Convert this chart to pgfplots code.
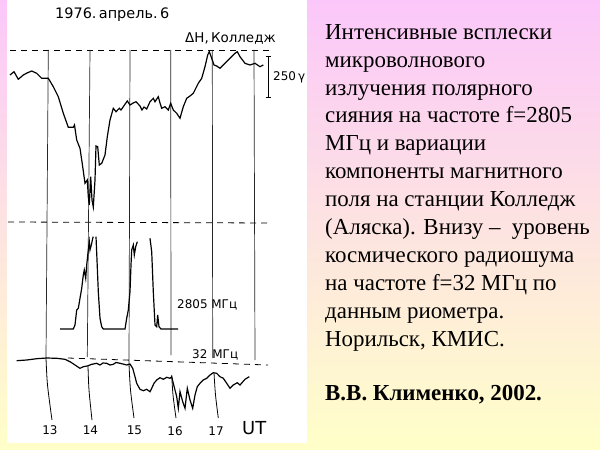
\documentclass[border=0pt]{standalone}
\usepackage{pgfplots}
\pgfplotsset{compat=1.18}
\usepackage{fontspec}
\setmainfont{Liberation Serif}
\newfontfamily\hand{DejaVu Sans}
\begin{document}
\begin{tikzpicture}[x=1bp,y=1bp]
\shade[top color={rgb,255:red,251;green,199;blue,250}, bottom color={rgb,255:red,255;green,255;blue,200}] (0,0) rectangle (600,450);
\fill[white] (7,7) rectangle (307,450);
\begin{axis}[at={(0,0)}, anchor=south west, width=600bp, height=450bp, scale only axis,
  xmin=0, xmax=600, ymin=0, ymax=450, y dir=reverse, axis lines=none, clip=false]
% dashed reference lines
\addplot[black, line width=0.8pt, dash pattern=on 6bp off 5bp] coordinates {(10,50) (270,50)};
\addplot[black, line width=0.8pt, dash pattern=on 6bp off 5bp] coordinates {(8,222) (270,223)};
\addplot[black, line width=0.8pt, dash pattern=on 6bp off 5bp] coordinates {(68,358) (268,365)};
% hour lines (upper parts)
\addplot[black!85, line width=0.7pt] coordinates {(48.3,50) (46,358)};
\addplot[black!85, line width=0.7pt] coordinates {(90,50) (87.3,357)};
\addplot[black!85, line width=0.7pt] coordinates {(130,50) (129,364)};
\addplot[black!85, line width=0.7pt] coordinates {(170.7,50) (171,355)};
\addplot[black!85, line width=0.7pt] coordinates {(212.3,50) (212.7,358)};
\addplot[black!85, line width=0.7pt] coordinates {(254,50) (255,360)};
% hour lines (lower parts, to labels)
\addplot[black, line width=0.8pt, smooth] coordinates {(46,358) (47.5,385) (52,420)};
\addplot[black, line width=0.8pt, smooth] coordinates {(88,366) (89,390) (92,420)};
\addplot[black, line width=0.8pt, smooth] coordinates {(129,364) (130.5,390) (134,418)};
\addplot[black, line width=0.8pt, smooth] coordinates {(171.7,375) (173,395) (176,418)};
\addplot[black, line width=0.8pt, smooth] coordinates {(214,373) (215.5,395) (218.3,418)};
% Delta H, College
\addplot[black, line width=1.2pt] coordinates {
(10,75) (14,71.7) (18.3,79.3) (23.3,75) (27,73) (31.7,71) (36.7,73.3) (41.7,78.3) (48.3,78.3)
(53.3,86.7) (58.3,96.7) (63.3,113.3) (68.3,127.3) (73.3,127.3) (74.5,125) (76.7,140) (80,148.3)
(82.7,166.7) (85,183.3) (87.3,180) (88.3,196.7) (89.3,205) (90.7,176.7) (92,200) (93.3,207)
(95,180) (96,146) (97.7,146.7) (99.3,165) (101.7,163.3) (105,155) (107.3,136.7) (110,120)
(113.3,108.3) (116,111.7) (119.3,108.3) (121,110) (123.3,106.7) (127.3,101) (130,105)
(132.7,103.3) (136,101.7) (140,106) (142,110) (144,107) (146.7,109) (150,101.7) (153.3,98.3)
(155,101.7) (158.3,96.7) (160,103) (161.7,108.3) (165,106.7) (168.3,110) (170.7,103.3)
(173.3,110) (176.7,113.3) (180,118.3) (183.3,106.7) (186.7,98.3) (190,96) (193.3,93.3)
(198.3,83.3) (201.7,78.3) (205,66.7) (207.7,55) (209.3,51.7) (211.7,58.3) (214,65) (216.7,66)
(220,68.3) (225,63.3) (230,58.3) (235,53.3) (237.3,51.7) (240,56.7) (245,63.3) (250,65)
(255,63.3) (260,66.7) (263.3,65)};
% 2805 MHz
\addplot[black, line width=1.2pt] coordinates {
(60,329) (73.3,329) (75,325) (76.7,310) (78.3,308.3) (81.7,288.3) (83.3,275) (84.3,270)
(85.7,278.3) (86.7,265) (88.3,250) (89.3,241.7) (90,250) (91.7,243.3) (92.7,238.3) (93.3,236.7)};
\addplot[black, line width=1.2pt] coordinates {
(96,236.7) (97,260) (98.3,291.7) (100,318.3) (101.7,326.7) (103.3,329) (125,329) (126.7,318.3)
(128.3,310) (130,291.7) (131,265) (131.7,250) (133.3,245) (134.3,255) (135.7,246.7) (137.3,241.7)};
\addplot[black, line width=1.2pt] coordinates {
(150,238.3) (151.7,251.7) (153.3,291.7) (155,325) (156.7,326.7) (157.7,315) (159,326.7)
(161,329) (178,329)};
% 32 MHz riometer
\addplot[black, line width=1.2pt] coordinates {
(16.7,360.7) (26.7,360) (36.7,358.7) (46.7,358) (56.7,358.3) (65,359.3) (70,361.7) (75,365)
(80,368.3) (83.3,366.7) (87.3,366) (91.7,364.3) (96.7,363.3) (100,365) (103,363) (106.7,363.3)
(110,365) (113.3,364.3) (116,362.5) (120,363.3) (123,364) (126.7,365) (130,364) (132.7,368.3)
(135,376.7) (136.7,383.3) (140,389.3) (143.3,390.7) (146.7,389.3) (150,391.7) (151.7,388.3)
(154,383.3) (156.7,380) (160,377.7) (163.3,379.3) (166.7,377.3) (170,378.3) (171.7,376.7)
(173.3,383.3) (176.7,396.7) (178.3,408.3) (180,391.7) (182.7,401.7) (185,408.3) (187.3,388.3)
(190,400) (192.7,408.3) (195,395) (197.3,386.7) (200,383.3) (203.3,380) (206.7,378.3)
(210,375) (213.3,372.7) (216.7,373.3) (220,376.7) (223.3,378.3) (226.7,383.3) (230,388.3)
(233.3,385) (237.3,382.7) (240,385) (245,379.3) (249.3,376.7)};
% 250 gamma scale bar
\addplot[black, line width=0.9pt] coordinates {(268.3,56) (268.3,97.3)};
\addplot[black, line width=0.9pt] coordinates {(265.8,56) (270.8,56)};
\addplot[black, line width=0.9pt] coordinates {(265.8,97.3) (270.8,97.3)};
% chart labels
\node[anchor=base west, inner sep=0pt, font=\hand\fontsize{14.5}{17}\selectfont] at (axis cs:55,19) {1976.\,апрель.\,6};
\node[anchor=base west, inner sep=0pt, font=\hand\fontsize{13.5}{16}\selectfont] at (axis cs:185,43) {ΔН,\,Колледж};
\node[anchor=base west, inner sep=0pt, font=\hand\fontsize{12}{14}\selectfont] at (axis cs:273,81) {250\,γ};
\node[anchor=base west, inner sep=0pt, font=\hand\fontsize{12}{14}\selectfont] at (axis cs:177,308) {2805 МГц};
\node[anchor=base west, inner sep=0pt, font=\hand\fontsize{12}{14}\selectfont] at (axis cs:192,358) {32\kern5bp МГц};
\node[anchor=base, font=\hand\fontsize{12}{14}\selectfont] at (axis cs:50,434) {13};
\node[anchor=base, font=\hand\fontsize{12}{14}\selectfont] at (axis cs:90.5,434) {14};
\node[anchor=base, font=\hand\fontsize{12}{14}\selectfont] at (axis cs:134.5,434) {15};
\node[anchor=base, font=\hand\fontsize{12}{14}\selectfont] at (axis cs:175,435) {16};
\node[anchor=base, font=\hand\fontsize{12}{14}\selectfont] at (axis cs:216,435) {17};
\node[anchor=base west, inner sep=0pt, font=\hand\fontsize{18}{20}\selectfont] at (axis cs:242,434) {UT};
% right-hand caption
\begin{scope}[every node/.style={anchor=base west, inner sep=0pt, font=\fontsize{23}{27.9}\selectfont}]
\node at (axis cs:325,39.3) {Интенсивные всплески};
\node at (axis cs:325,67.2) {микроволнового};
\node at (axis cs:325,95.1) {излучения полярного};
\node at (axis cs:325,123.0) {сияния на частоте f=2805};
\node at (axis cs:325,150.9) {МГц и вариации};
\node at (axis cs:325,178.8) {компоненты магнитного};
\node at (axis cs:325,206.7) {поля на станции Колледж};
\node at (axis cs:325,234.6) {(Аляска). Внизу –\ \ уровень};
\node at (axis cs:325,262.5) {космического радиошума};
\node at (axis cs:325,290.4) {на частоте f=32 МГц по};
\node at (axis cs:325,318.3) {данным риометра.};
\node at (axis cs:325,346.2) {Норильск, КМИС.};
\node[font=\bfseries\fontsize{23}{27.9}\selectfont] at (axis cs:325,400.5) {В.В. Клименко, 2002.};
\end{scope}
\end{axis}
\end{tikzpicture}
\end{document}
